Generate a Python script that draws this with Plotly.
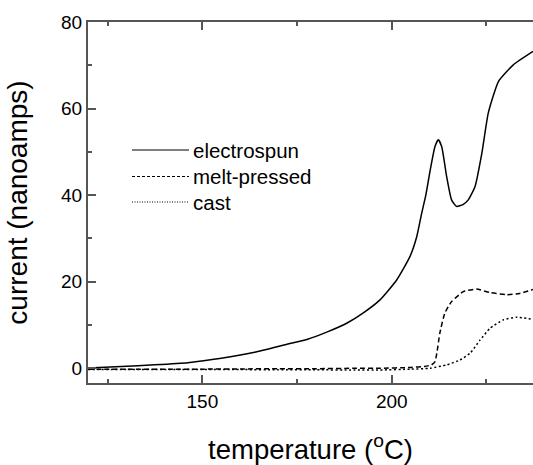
import plotly.graph_objects as go

# electrospun
es_T = [119.8, 128.6, 137.4, 146.2, 155.0, 163.8, 172.6, 177.8, 183.0, 188.1, 192.5, 196.9, 201.3, 204.8, 206.6, 207.9, 209.0, 210.1, 211.4, 212.3, 213.2, 214.5, 215.8, 217.1, 218.8, 220.2, 222.0, 223.8, 225.5, 228.2, 232.1, 237.3]
es_I = [0.05, 0.4, 0.8, 1.3, 2.3, 3.7, 5.6, 6.7, 8.4, 10.4, 12.8, 15.8, 20.4, 25.8, 30.4, 35.8, 40.0, 45.5, 51.2, 52.8, 51.2, 44.3, 38.9, 37.4, 37.8, 38.9, 42.0, 49.7, 59.0, 66.3, 70.1, 73.2]

# melt-pressed
mp_T = [119.8, 130, 140, 150, 160, 170, 180, 190, 197, 205, 209.2, 210.5, 211.4, 212.0, 212.7, 214.0, 215.8, 218.9, 222.4, 225.9, 230.3, 233.8, 237.3]
mp_I = [-0.2, -0.2, -0.2, -0.2, -0.15, -0.1, -0.1, 0.0, 0.0, 0.2, 0.5, 0.8, 1.5, 4.0, 8.1, 12.7, 15.4, 17.7, 18.3, 17.5, 17.0, 17.3, 18.2]

# cast
c_T = [119.8, 130, 140, 150, 160, 170, 180, 190, 196.9, 205, 210.1, 214.5, 218.0, 220.7, 223.3, 225.9, 229.5, 233.0, 237.3]
c_I = [-0.3, -0.3, -0.3, -0.3, -0.3, -0.35, -0.35, -0.4, -0.4, -0.2, 0.0, 0.8, 1.9, 3.5, 6.5, 9.2, 11.2, 11.8, 11.3]

legend_names = ["electrospun", "melt-pressed", "cast"]
x_ticks = [150, 200]
y_ticks = [0, 20, 40, 60, 80]

FONT = "Liberation Sans, Arial"

fig = go.Figure()
for T, I, name, dash in [(es_T, es_I, legend_names[0], "solid"),
                         (mp_T, mp_I, legend_names[1], "5px,3px"),
                         (c_T, c_I, legend_names[2], "2px,2.5px")]:
    fig.add_trace(go.Scatter(x=T, y=I, mode="lines", name=name,
                             line=dict(color="black", width=1.5, dash=dash, shape="spline", smoothing=0.5),
                             showlegend=False))

# manual legend (plot area: x 88..533, y 22..383)
leg_y = [150, 176.5, 202]
for yy, name, dash in zip(leg_y, legend_names, ["solid", "3px,2px", "1px,1.5px"]):
    yp = 1 - (yy - 22) / 361
    fig.add_shape(type="line", xref="paper", yref="paper",
                  x0=(132 - 88) / 445, x1=(189 - 88) / 445, y0=yp, y1=yp,
                  line=dict(color="black", width=1.1, dash=dash))
    fig.add_annotation(xref="paper", yref="paper", x=(191 - 88) / 445, y=yp,
                       text=name, showarrow=False, xanchor="left", yanchor="middle",
                       font=dict(family=FONT, size=20.5, color="black"))

axis_common = dict(showgrid=False, zeroline=False, showline=True, linecolor="#555", linewidth=2,
                   ticks="inside", tickcolor="#555", tickwidth=1.5, ticklen=8, automargin=False,
                   tickfont=dict(family=FONT, size=19, color="black"))

fig.update_layout(
    width=533, height=465,
    margin=dict(l=88, r=0, t=22, b=82),
    paper_bgcolor="white", plot_bgcolor="white",
    xaxis=dict(range=[119.8, 237.3], tickvals=x_ticks, mirror="allticks",
               minor=dict(dtick=25, tick0=125, ticks="inside", ticklen=4, tickcolor="#555", tickwidth=1.5),
               title=dict(text="temperature (<sup>o</sup>C)", font=dict(family=FONT, size=27.5, color="black"), standoff=29),
               **axis_common),
    yaxis=dict(range=[-3.4, 80], tickvals=y_ticks,
               minor=dict(dtick=10, tick0=10, ticks="inside", ticklen=4, tickcolor="#555", tickwidth=1.5),
               title=dict(text="current (nanoamps)", font=dict(family=FONT, size=28, color="black"), standoff=25),
               **axis_common),
)

fig.write_html("out.html", config={"displayModeBar": False},
               post_script="document.body.style.margin='0';document.body.style.overflow='hidden';")
